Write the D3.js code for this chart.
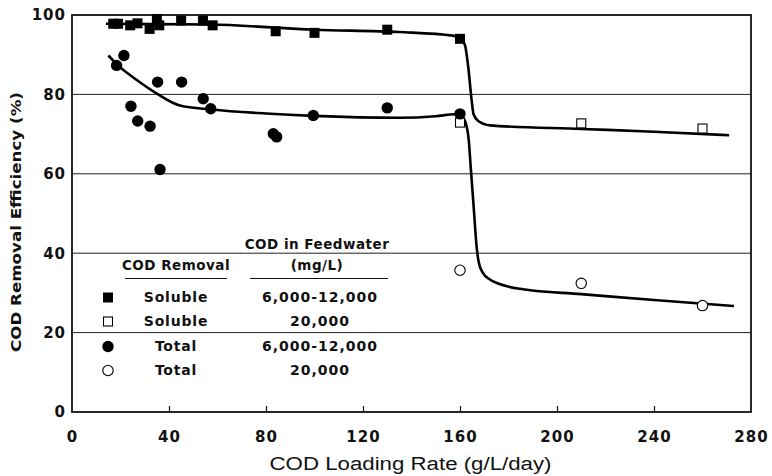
<!DOCTYPE html>
<html><head><meta charset="utf-8">
<script src="https://cdn.jsdelivr.net/npm/d3@7"></script>
<style>
html,body{margin:0;padding:0;background:#fff;}
svg{display:block;}
</style></head>
<body>
<svg id="chart" width="772" height="476"></svg>
<script>
// ---- data ----
const xTicks = [0, 40, 80, 120, 160, 200, 240, 280];
const yTicks = [0, 20, 40, 60, 80, 100];

// Soluble COD removal, feed 6,000-12,000 mg/L (filled squares)
const solLowX = [17, 19, 24, 27, 32, 35, 36, 45, 54, 58, 84, 100, 130, 160];
const solLowY = [97.8, 97.8, 97.4, 97.9, 96.5, 99.0, 97.4, 98.6, 98.6, 97.4, 95.9, 95.5, 96.3, 94.0];
// Soluble, feed 20,000 mg/L (open squares)
const solHighX = [160, 210, 260];
const solHighY = [72.9, 72.7, 71.4];
// Total COD removal, feed 6,000-12,000 (filled circles)
const totLowX = [18.4, 21.4, 24.3, 27.1, 32.2, 35.3, 36.3, 45.2, 54.1, 57.2, 83, 84.4, 99.5, 130, 160];
const totLowY = [87.3, 89.8, 77.0, 73.3, 72.0, 83.1, 61.1, 83.1, 78.9, 76.4, 70.1, 69.3, 74.7, 76.6, 75.1];
// Total, feed 20,000 (open circles)
const totHighX = [160, 210, 260];
const totHighY = [35.7, 32.4, 26.8];

// hand-drawn trend curves
const solFitX = [14, 35, 57, 100, 135, 157, 160, 162, 163.4, 164.8, 165.6, 167.5, 172.4, 210, 240, 271];
const solFitY = [97.8, 97.7, 97.6, 96.3, 95.7, 94.8, 94.2, 92.5, 86.9, 78.5, 75.0, 73.3, 72.2, 71.3, 70.6, 69.7];
const totFitX = [15, 19, 27, 35, 44.5, 57.6, 80, 99.5, 135, 150, 158, 160.5, 162.5, 163.6, 164.5, 165.6, 166.8, 167.8, 169.5, 172.5, 176, 186, 210, 240, 273];
const totFitY = [89.8, 87.3, 83.5, 80.2, 77.2, 76.2, 75.2, 74.6, 74.1, 74.5, 75.0, 74.6, 72.5, 68.5, 61, 52, 42, 37.5, 35.0, 33.3, 32.3, 30.9, 29.7, 28.2, 26.7];

const legendRows = [
  {sym: "fsq", label: "Soluble", feed: "6,000-12,000"},
  {sym: "osq", label: "Soluble", feed: "20,000"},
  {sym: "fci", label: "Total", feed: "6,000-12,000"},
  {sym: "oci", label: "Total", feed: "20,000"}
];

// ---- drawing ----
const svg = d3.select("#chart");
const L = 72, R = 751, T = 15, B = 412;
const x = d3.scaleLinear().domain([0, 280]).range([L, R]);
const y = d3.scaleLinear().domain([0, 100]).range([B, T]);
const FONT = "'DejaVu Sans', sans-serif";

// gridlines
svg.append("g").selectAll("line").data(yTicks.filter(d => d > 0 && d < 100)).join("line")
  .attr("x1", L).attr("x2", R).attr("y1", d => y(d)).attr("y2", d => y(d))
  .attr("stroke", "#222").attr("stroke-width", 1);

// x axis
const gx = svg.append("g").attr("transform", `translate(0,${B})`)
  .call(d3.axisBottom(x).tickValues(xTicks).tickSizeInner(-6).tickSizeOuter(0).tickPadding(19));
gx.select(".domain").remove();
gx.selectAll(".tick line").attr("stroke", "#111").attr("stroke-width", 1.2);
gx.selectAll(".tick text").attr("font-family", FONT).attr("font-weight", "bold")
  .attr("font-size", 15).attr("letter-spacing", 1).attr("fill", "#111");
gx.selectAll(".tick").filter(d => d === 0 || d === 280).select("line").remove();

// y axis
const gy = svg.append("g").attr("transform", `translate(${L},0)`)
  .call(d3.axisLeft(y).tickValues(yTicks).tickSize(0).tickPadding(6));
gy.select(".domain").remove();
gy.selectAll(".tick text").attr("font-family", FONT).attr("font-weight", "bold")
  .attr("font-size", 15).attr("letter-spacing", 1).attr("fill", "#111");

// frame
svg.append("rect").attr("x", L).attr("y", T).attr("width", R - L).attr("height", B - T)
  .attr("fill", "none").attr("stroke", "#111").attr("stroke-width", 1.8);

// axis titles
svg.append("text").attr("x", (L + R) / 2 - 1).attr("y", 470).attr("text-anchor", "middle")
  .attr("font-family", "'Liberation Sans', Arial, sans-serif").attr("font-size", 18)
  .attr("textLength", 282).attr("lengthAdjust", "spacingAndGlyphs").attr("fill", "#111")
  .text("COD Loading Rate (g/L/day)");
svg.append("text").attr("transform", "translate(21,222) rotate(-90)").attr("text-anchor", "middle")
  .attr("font-family", FONT).attr("font-weight", "bold").attr("font-size", 14.5)
  .attr("textLength", 260).attr("lengthAdjust", "spacingAndGlyphs").attr("fill", "#111")
  .text("COD Removal Efficiency (%)");

// fit curves
const line = d3.line().x(d => x(d[0])).y(d => y(d[1])).curve(d3.curveMonotoneX);
svg.append("path").datum(solFitX.map((v, i) => [v, solFitY[i]])).attr("d", line)
  .attr("fill", "none").attr("stroke", "#000").attr("stroke-width", 2.6).attr("stroke-linejoin", "round");
svg.append("path").datum(totFitX.map((v, i) => [v, totFitY[i]])).attr("d", line)
  .attr("fill", "none").attr("stroke", "#000").attr("stroke-width", 2.6).attr("stroke-linejoin", "round");

// markers
function drawSym(g, type, cx, cy) {
  if (type === "fsq") g.append("rect").attr("x", cx - 5).attr("y", cy - 5).attr("width", 10).attr("height", 10).attr("fill", "#000");
  if (type === "osq") g.append("rect").attr("x", cx - 4.5).attr("y", cy - 4.5).attr("width", 9).attr("height", 9).attr("fill", "#fff").attr("stroke", "#000").attr("stroke-width", 1.1);
  if (type === "fci") g.append("circle").attr("cx", cx).attr("cy", cy).attr("r", 5.7).attr("fill", "#000");
  if (type === "oci") g.append("circle").attr("cx", cx).attr("cy", cy).attr("r", 5.2).attr("fill", "#fff").attr("stroke", "#000").attr("stroke-width", 1.1);
}
const mk = svg.append("g");
solHighX.forEach((v, i) => drawSym(mk, "osq", x(v), y(solHighY[i])));
totHighX.forEach((v, i) => drawSym(mk, "oci", x(v), y(totHighY[i])));
solLowX.forEach((v, i) => drawSym(mk, "fsq", x(v), y(solLowY[i])));
totLowX.forEach((v, i) => drawSym(mk, "fci", x(v), y(totLowY[i])));

// legend
const lg = svg.append("g").attr("font-family", FONT).attr("font-weight", "bold").attr("fill", "#111");
const legendBg = lg.append("rect").attr("x", 96).attr("y", 238).attr("width", 310).attr("height", 146).attr("fill", "#fff").attr("opacity", 0);
lg.append("text").attr("x", 317).attr("y", 249).attr("text-anchor", "middle").attr("font-size", 13.5)
  .attr("letter-spacing", 0.5).text("COD in Feedwater");
lg.append("text").attr("x", 176).attr("y", 270).attr("text-anchor", "middle").attr("font-size", 13.5)
  .attr("letter-spacing", 0.5).text("COD Removal");
lg.append("text").attr("x", 317).attr("y", 270).attr("text-anchor", "middle").attr("font-size", 13.5)
  .attr("letter-spacing", 0.5).text("(mg/L)");
lg.append("line").attr("x1", 125).attr("x2", 227).attr("y1", 278.5).attr("y2", 278.5).attr("stroke", "#111").attr("stroke-width", 1.2);
lg.append("line").attr("x1", 250).attr("x2", 388).attr("y1", 278.5).attr("y2", 278.5).attr("stroke", "#111").attr("stroke-width", 1.2);
const rowY = [302, 326, 351, 375];
legendRows.forEach((r, i) => {
  drawSym(lg, r.sym, 108, rowY[i] - 4.5);
  lg.append("text").attr("x", 176).attr("y", rowY[i]).attr("text-anchor", "middle").attr("font-size", 14)
    .attr("letter-spacing", 0.8).text(r.label);
  lg.append("text").attr("x", 320).attr("y", rowY[i]).attr("text-anchor", "middle").attr("font-size", 14)
    .attr("letter-spacing", 1).text(r.feed);
});
</script>
</body></html>
